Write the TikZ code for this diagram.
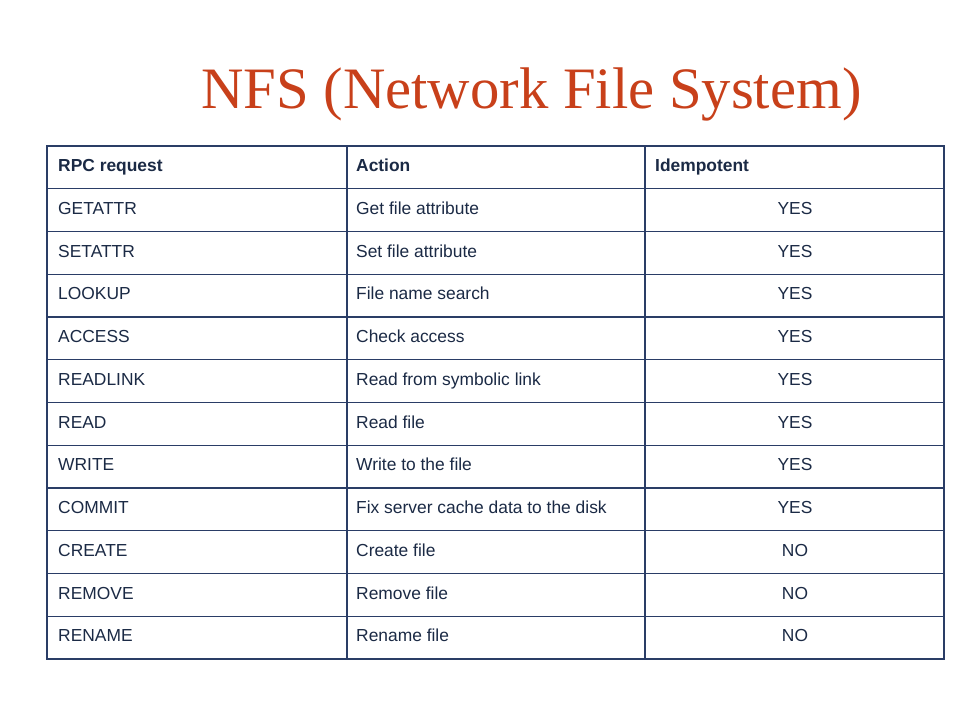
\documentclass[tikz,border=0pt]{standalone}
\usepackage{fontspec}
\setmainfont{Liberation Sans}
\newfontfamily\titlefont{Liberation Serif}
\definecolor{titlecol}{HTML}{C8401A}
\definecolor{txtcol}{HTML}{1B2A45}
\definecolor{linecol}{HTML}{2A3D66}
\begin{document}
\begin{tikzpicture}[x=1pt,y=-1pt,
  cell/.style={anchor=base west,inner sep=0pt,text=txtcol,font=\fontsize{17.4}{20}\selectfont},
  hcell/.style={cell,font=\fontsize{17.4}{20}\selectfont\bfseries},
  ccell/.style={anchor=base,inner sep=0pt,text=txtcol,font=\fontsize{17.4}{20}\selectfont},
  grid/.style={draw=linecol,line width=1.1pt}]
\useasboundingbox[fill=white] (0,0) rectangle (960,720);
\node[anchor=base west,inner sep=0pt,text=titlecol,font=\titlefont\fontsize{58.7}{66}\selectfont] (title) at (201,108) {NFS (Network File System)};
% grid
\foreach \i in {1,...,11} {
  \draw[grid] (47,{146+42.75*\i}) -- (944,{146+42.75*\i});
}
\draw[grid] (347,146) -- (347,659);
\draw[grid] (645,146) -- (645,659);
\draw[grid] (47,146) rectangle (944,659);
% header
\node[hcell] (h1) at (58,171.5) {RPC request};
\node[hcell] (h2) at (356,171.5) {Action};
\node[hcell] (h3) at (655,171.5) {Idempotent};
% rows
\foreach \n/\a/\b/\c in {1/GETATTR/Get file attribute/YES,
  2/SETATTR/Set file attribute/YES,
  3/LOOKUP/File name search/YES,
  4/ACCESS/Check access/YES,
  5/READLINK/Read from symbolic link/YES,
  6/READ/Read file/YES,
  7/WRITE/Write to the file/YES,
  8/COMMIT/Fix server cache data to the disk/YES,
  9/CREATE/Create file/NO,
  10/REMOVE/Remove file/NO,
  11/RENAME/Rename file/NO} {
  \node[cell] (r\n a) at (58,{146+42.75*(\n+0.5)+4.3}) {\a};
  \node[cell] (r\n b) at (356,{146+42.75*(\n+0.5)+4.3}) {\b};
  \node[ccell] (r\n c) at (795,{146+42.75*(\n+0.5)+4.3}) {\c};
}
\end{tikzpicture}
\end{document}
